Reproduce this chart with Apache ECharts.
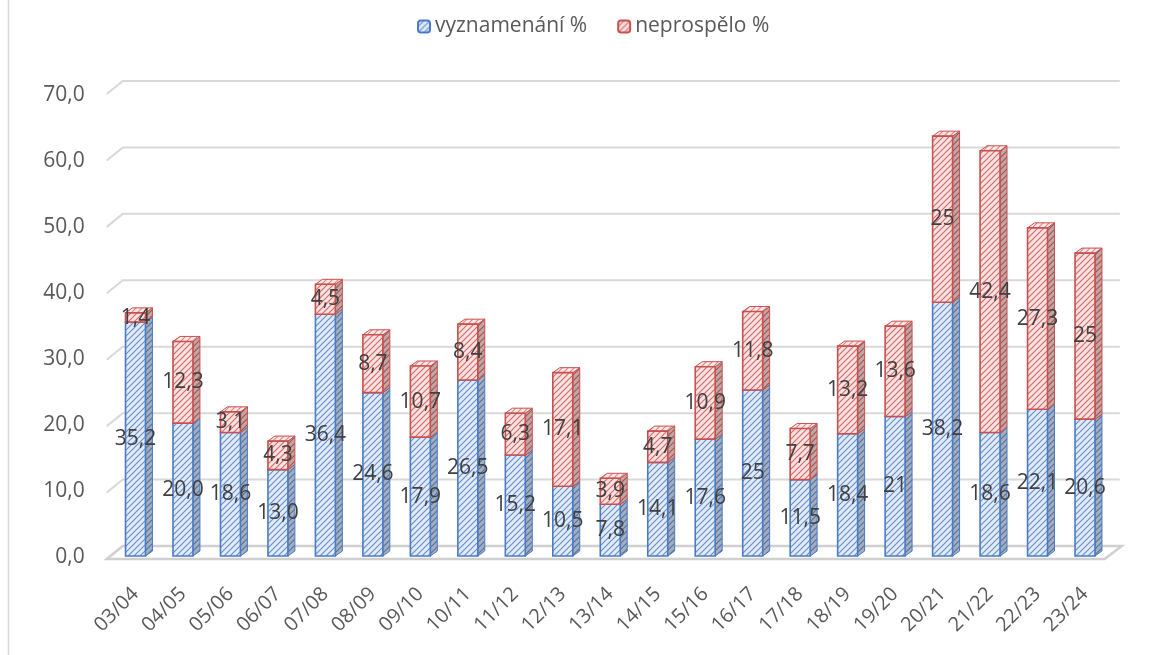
<!DOCTYPE html>
<html><head><meta charset="utf-8">
<script src="https://cdn.jsdelivr.net/npm/echarts@6/dist/echarts.min.js"></script>
<style>html,body{margin:0;padding:0;background:#fff}#c{width:1163px;height:655px}</style>
</head><body><div id="c"></div>
<script>
const categories = ['03/04','04/05','05/06','06/07','07/08','08/09','09/10','10/11','11/12','12/13','13/14','14/15','15/16','16/17','17/18','18/19','19/20','20/21','21/22','22/23','23/24'];
const honours = [35.2,20.0,18.6,13.0,36.4,24.6,17.9,26.5,15.2,10.5,7.8,14.1,17.6,25,11.5,18.4,21,38.2,18.6,22.1,20.6];
const honoursLabels = ['35,2','20,0','18,6','13,0','36,4','24,6','17,9','26,5','15,2','10,5','7,8','14,1','17,6','25','11,5','18,4','21','38,2','18,6','22,1','20,6'];
const failed = [1.4,12.3,3.1,4.3,4.5,8.7,10.7,8.4,6.3,17.1,3.9,4.7,10.9,11.8,7.7,13.2,13.6,25,42.4,27.3,25];
const failedLabels = ['1,4','12,3','3,1','4,3','4,5','8,7','10,7','8,4','6,3','17,1','3,9','4,7','10,9','11,8','7,7','13,2','13,6','25','42,4','27,3','25'];
const yTicks = [0,10,20,30,40,50,60,70];
const seriesNames = ['vyznamenání %','neprospělo %'];

const FONT = '"Open Sans", sans-serif';

function makePattern(bg, line) {
  const s = 6;
  const c = document.createElement('canvas');
  c.width = s; c.height = s;
  const ctx = c.getContext('2d');
  ctx.fillStyle = bg; ctx.fillRect(0,0,s,s);
  ctx.strokeStyle = line; ctx.lineWidth = 1.2;
  ctx.beginPath();
  ctx.moveTo(-1, s+1); ctx.lineTo(s+1, -1);
  ctx.moveTo(-1, 1); ctx.lineTo(1, -1);
  ctx.moveTo(s-1, s+1); ctx.lineTo(s+1, s-1);
  ctx.stroke();
  return {image: c, repeat: 'repeat'};
}
const blueFront = makePattern('#e2eaf6', '#6690d0');
const blueSide = makePattern('#a3aebf', '#55729f');
const blueTop = makePattern('#e9f0fa', '#86a6da');
const redFront = makePattern('#fae2e2', '#d46c69');
const redSide = makePattern('#c2a6a6', '#a25555');
const redTop = makePattern('#fce9e9', '#da8888');

const blueData = honours.map((v,i)=>[i,0,v]);
const redData = failed.map((v,i)=>[i,honours[i],honours[i]+v]);

function barRender(front, side, top, stroke) {
  return function(params, api) {
    const i = api.value(0), lo = api.value(1), hi = api.value(2);
    const pLo = api.coord([i, lo]), pHi = api.coord([i, hi]);
    const band = api.size([1,0])[0];
    const w = band*0.42, x = pLo[0]-w/2, yB = pLo[1], yT = pHi[1];
    const dx = 7, dy = -5;
    return {type:'group', children:[
      {type:'polygon', shape:{points:[[x+w,yT],[x+w+dx,yT+dy],[x+w+dx,yB+dy],[x+w,yB]]}, style:{fill:side, stroke:stroke, lineWidth:1}},
      {type:'polygon', shape:{points:[[x,yT],[x+dx,yT+dy],[x+w+dx,yT+dy],[x+w,yT]]}, style:{fill:top, stroke:stroke, lineWidth:1}},
      {type:'rect', shape:{x:x, y:yT, width:w, height:yB-yT}, style:{fill:front, stroke:stroke, lineWidth:1.6}}
    ]};
  };
}
function labelRender(labels) {
  return function(params, api) {
    const i = api.value(0), lo = api.value(1), hi = api.value(2);
    const pLo = api.coord([i, lo]), pHi = api.coord([i, hi]);
    return {type:'text', x:pLo[0], y:(pLo[1]+pHi[1])/2,
      style:{text:labels[params.dataIndex], fill:'#404040', font:'21px '+FONT, align:'center', verticalAlign:'middle'}};
  };
}
function wallRender(params, api) {
  const v = api.value(1);
  const y = api.coord([0, v])[1];
  const cs = params.coordSys;
  const x0 = cs.x, x1 = cs.x + cs.width;
  if (v === 0) {
    return {type:'polygon', shape:{points:[[x0-5,y+3],[x1-4,y+3],[x1+13,y-10],[x0+11,y-10]]},
      style:{fill:'#ffffff', stroke:'#d0d0d0', lineWidth:2.5}};
  }
  return {type:'polyline', shape:{points:[[x0-5,y+3],[x0+11,y-10],[x1+11,y-10]]},
    style:{fill:null, stroke:'#d9d9d9', lineWidth:2}};
}

const chart = echarts.init(document.getElementById('c'), null, {renderer:'canvas'});
chart.setOption({
  animation:false,
  backgroundColor:'#ffffff',
  graphic:[{type:'line', shape:{x1:8.5,y1:0,x2:8.5,y2:655}, style:{stroke:'#d9d9d9', lineWidth:1.5}}],
  legend:{data:seriesNames, left:412, top:11, itemWidth:12, itemHeight:12, itemGap:30,
    textStyle:{color:'#595959', fontSize:21, fontFamily:FONT}},
  grid:[
    {left:111.75, right:54.25, top:91, bottom:99},
    {left:111.75, right:54.25, top:95, bottom:98}
  ],
  xAxis:[
    {type:'category', gridIndex:0, data:categories, axisLine:{show:false}, axisTick:{show:false},
      axisLabel:{interval:0, rotate:45, margin:35, color:'#595959', fontSize:20, fontFamily:FONT}},
    {type:'category', gridIndex:1, data:categories, show:false}
  ],
  yAxis:[
    {type:'value', gridIndex:0, min:0, max:70, interval:10, axisLabel:{show:false}, splitLine:{show:false}, axisLine:{show:false}, axisTick:{show:false}},
    {type:'value', gridIndex:1, min:0, max:70, interval:10, splitLine:{show:false}, axisLine:{show:false}, axisTick:{show:false},
      axisLabel:{margin:27, color:'#595959', fontSize:21, fontFamily:FONT, formatter:v=>v.toFixed(1).replace('.',',')}}
  ],
  series:[
    {type:'custom', name:'wall', xAxisIndex:0, yAxisIndex:0, z:1, silent:true, renderItem:wallRender, data:yTicks.map(v=>[0,v])},
    {type:'custom', name:seriesNames[0], xAxisIndex:0, yAxisIndex:0, z:2, renderItem:barRender(blueFront, blueSide, blueTop, '#4a7cc6'), data:blueData,
      itemStyle:{color:blueFront, borderColor:'#4a7cc6', borderWidth:1}},
    {type:'custom', name:seriesNames[1], xAxisIndex:0, yAxisIndex:0, z:3, renderItem:barRender(redFront, redSide, redTop, '#c9504d'), data:redData,
      itemStyle:{color:redFront, borderColor:'#c9504d', borderWidth:1}},
    {type:'custom', name:'lblA', xAxisIndex:0, yAxisIndex:0, z:5, silent:true, renderItem:labelRender(honoursLabels), data:blueData},
    {type:'custom', name:'lblB', xAxisIndex:0, yAxisIndex:0, z:6, silent:true, renderItem:labelRender(failedLabels), data:redData}
  ]
});
</script></body></html>
